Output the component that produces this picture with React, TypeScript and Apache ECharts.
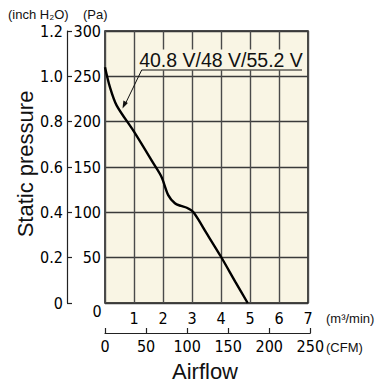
import React, { useEffect, useRef } from "react";
import * as echarts from "echarts";

const flow = [0, 0.17, 0.4, 1.0, 1.67, 1.95, 2.18, 2.41, 2.62, 2.82, 3.05, 3.5, 4.0, 4.5, 4.92];
const pressure = [260, 238, 218, 189, 154, 139, 119, 110, 107, 105, 100, 77, 51, 23, 0];
const flowTicks = [0, 1, 2, 3, 4, 5, 6, 7];
const cfmTicks = [0, 50, 100, 150, 200, 250];
const paTicks = [0, 50, 100, 150, 200, 250, 300];
const inchTicks = [0, 0.2, 0.4, 0.6, 0.8, 1.0, 1.2];
const curveLabel = "40.8 V/48 V/55.2 V";

const NARROW = "'Liberation Sans Narrow', 'DejaVu Sans Condensed', 'Roboto Condensed', sans-serif";
const SANS = "'Liberation Sans', Arial, sans-serif";
const CREAM = "#f9f5e4";

export default function App() {
  const ref = useRef<HTMLDivElement>(null);
  useEffect(() => {
    if (!ref.current) return;
    const chart = echarts.init(ref.current, undefined, { renderer: "svg" });
    const tickLabel = { fontFamily: NARROW, fontSize: 16, color: "#000" };
    chart.setOption({
      animation: false,
      grid: [
        {
          left: 105, top: 31, width: 203, height: 272,
          show: true, backgroundColor: CREAM, borderColor: "#111", borderWidth: 1.5,
        },
        { left: 105, top: 328, width: 205.3, height: 5, show: false },
      ],
      xAxis: [
        {
          gridIndex: 0, type: "value", min: flowTicks[0], max: flowTicks[flowTicks.length - 1], interval: 1,
          axisLine: { show: false }, axisTick: { show: false },
          axisLabel: { ...tickLabel, margin: 7, formatter: (v: number) => (v === 0 ? "" : String(v)) },
          splitLine: { show: true, lineStyle: { color: "#4a4a4a", width: 1.4 } },
        },
        {
          gridIndex: 1, type: "value", min: cfmTicks[0], max: cfmTicks[cfmTicks.length - 1], interval: 50,
          position: "bottom",
          axisLine: { show: true, lineStyle: { color: "#222", width: 1.2 } },
          axisTick: { show: true, inside: true, length: 5, lineStyle: { color: "#222", width: 1.2 } },
          axisLabel: { ...tickLabel, margin: 5 },
          splitLine: { show: false },
        },
      ],
      yAxis: [
        {
          gridIndex: 0, type: "value", min: paTicks[0], max: paTicks[paTicks.length - 1], interval: 50,
          axisLine: { show: false }, axisTick: { show: false },
          axisLabel: { ...tickLabel, margin: 4, formatter: (v: number) => (v === 0 ? "" : String(v)) },
          splitLine: { show: true, lineStyle: { color: "#3a3a3a", width: 1.4 } },
        },
        {
          gridIndex: 0, type: "value", min: inchTicks[0], max: inchTicks[inchTicks.length - 1], interval: 0.2,
          position: "left", offset: 38,
          axisLine: { show: true, lineStyle: { color: "#222", width: 1.2 } },
          axisTick: { show: true, inside: true, length: 5, lineStyle: { color: "#222", width: 1.2 } },
          axisLabel: { ...tickLabel, margin: 4, formatter: (v: number) => (v === 0 ? "0" : v.toFixed(1)) },
          splitLine: { show: false },
        },
        { gridIndex: 1, type: "value", show: false, min: 0, max: 1 },
      ],
      series: [
        {
          type: "line", xAxisIndex: 0, yAxisIndex: 0,
          data: flow.map((f, i) => [f, pressure[i]]),
          smooth: 0.3, showSymbol: false, symbol: "none",
          lineStyle: { color: "#000", width: 2.4 },
          z: 5,
        },
      ],
      graphic: [
        { type: "text", x: 8, y: 14, style: { text: "(inch H₂O)", font: `13px ${SANS}`, fill: "#111", verticalAlign: "middle" } },
        { type: "text", x: 83, y: 14, style: { text: "(Pa)", font: `13px ${SANS}`, fill: "#111", verticalAlign: "middle" } },
        { type: "text", x: 97, y: 311, style: { text: "0", font: `16px ${NARROW}`, fill: "#000", align: "center", verticalAlign: "middle" } },
        { type: "text", x: 326, y: 318, style: { text: "(m³/min)", font: `13px ${SANS}`, fill: "#111", verticalAlign: "middle" } },
        { type: "text", x: 326, y: 347, style: { text: "(CFM)", font: `13px ${SANS}`, fill: "#111", verticalAlign: "middle" } },
        { type: "text", x: 205, y: 371, style: { text: "Airflow", font: `22px ${SANS}`, fill: "#111", align: "center", verticalAlign: "middle" } },
        { type: "text", x: 25, y: 164, rotation: Math.PI / 2, style: { text: "Static pressure", font: `22px ${SANS}`, fill: "#111", align: "center", verticalAlign: "middle" } },
        { type: "text", x: 221, y: 60, z: 10, style: { text: curveLabel, font: `19.5px ${SANS}`, fill: "#111", align: "center", verticalAlign: "middle", backgroundColor: CREAM, padding: [1, 1, 0, 1] } },
        { type: "polyline", z: 10, shape: { points: [[302, 70], [141.7, 70], [125, 104.5]] }, style: { stroke: "#111", lineWidth: 1, fill: "none" } },
        { type: "polygon", z: 10, shape: { points: [[122.5, 108.5], [127.9, 102.9], [123.4, 100.6]] }, style: { fill: "#111" } },
      ],
    });
    return () => chart.dispose();
  }, []);
  return <div ref={ref} style={{ width: 379, height: 385, position: "absolute", left: 0, top: 0 }} />;
}
